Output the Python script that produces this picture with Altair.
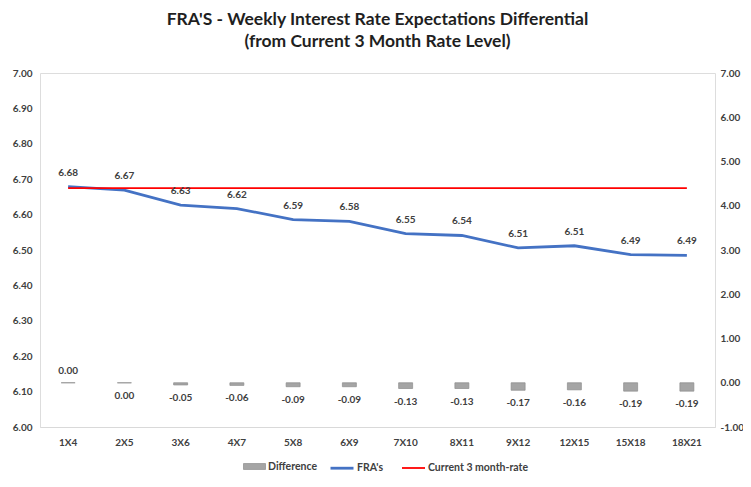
import altair as alt
import pandas as pd

tenors = ["1X4", "2X5", "3X6", "4X7", "5X8", "6X9", "7X10", "8X11", "9X12", "12X15", "15X18", "18X21"]
fra = [6.679, 6.669, 6.627, 6.617, 6.586, 6.581, 6.546, 6.541, 6.506, 6.512, 6.487, 6.485]
current_rate = 6.675
difference = [0.00, -0.003, -0.05, -0.06, -0.09, -0.09, -0.13, -0.13, -0.17, -0.16, -0.19, -0.19]
left_ticks = [6.0, 6.1, 6.2, 6.3, 6.4, 6.5, 6.6, 6.7, 6.8, 6.9, 7.0]
right_ticks = [-1, 0, 1, 2, 3, 4, 5, 6, 7]
series_names = ["FRA's", "Current 3 month-rate"]
series_colors = ["#4472C4", "#FF0000"]
series_widths = [2.8, 1.8]

FONT = "Lato"
TXT = "#404040"


def fmt(v):
    s = f"{v:.2f}"
    return "0.00" if s == "-0.00" else s


lines_df = pd.DataFrame(
    [{"tenor": t, "series": "FRA's", "value": v} for t, v in zip(tenors, fra)]
    + [{"tenor": t, "series": "Current 3 month-rate", "value": current_rate} for t in tenors]
)
fra_df = pd.DataFrame({"tenor": tenors, "value": fra, "label": [fmt(v) for v in fra]})
diff_df = pd.DataFrame({
    "tenor": tenors,
    "value": difference,
    "zero": [0.0] * len(tenors),
    "label": [fmt(v) for v in difference],
    "series": ["Difference"] * len(tenors),
})

x_enc = alt.X(
    "tenor:N", sort=tenors, title=None,
    scale=alt.Scale(paddingInner=0, paddingOuter=0),
    axis=alt.Axis(labelAngle=0, ticks=False, grid=False, domainColor="#D9D9D9",
                  labelFont=FONT, labelFontWeight="bold", labelFontSize=10,
                  labelColor=TXT, labelPadding=10),
)

left_scale = alt.Scale(domain=[6.0, 7.0], nice=False, zero=False)
right_scale = alt.Scale(domain=[-1, 7], nice=False, zero=False)

left_axis = alt.Axis(orient="left", values=left_ticks, format=".2f", grid=False, ticks=False,
                     domain=False, labelOverlap=False, labelFont=FONT, labelFontWeight="bold",
                     labelFontSize=10, labelColor=TXT, labelPadding=8)
right_axis = alt.Axis(orient="right", values=right_ticks, grid=False, ticks=False, domain=False,
                      labelOverlap=False,
                      labelExpr="datum.value < 0 ? '-' + format(-datum.value, '.2f') : format(datum.value, '.2f')",
                      labelFont=FONT, labelFontWeight="bold", labelFontSize=10,
                      labelColor=TXT, labelPadding=5)

y_left = alt.Y("value:Q", title=None, scale=left_scale, axis=left_axis)
y_right = alt.Y("value:Q", title=None, scale=right_scale, axis=right_axis)

lines = alt.Chart(lines_df).mark_line().encode(
    x=x_enc,
    y=y_left,
    stroke=alt.Stroke(
        "series:N",
        scale=alt.Scale(domain=series_names, range=series_colors),
        legend=alt.Legend(orient="none", legendX=289, legendY=382, direction="horizontal",
                          title=None, symbolType="stroke", symbolStrokeWidth=2,
                          symbolSize=529, columnPadding=14, labelOffset=2,
                          labelFont=FONT, labelFontWeight="bold", labelFontSize=10.5,
                          labelColor=TXT),
    ),
    strokeWidth=alt.StrokeWidth(
        "series:N", scale=alt.Scale(domain=series_names, range=series_widths), legend=None
    ),
)

fra_labels = alt.Chart(fra_df).mark_text(
    dy=-14, font=FONT, fontWeight="bold", fontSize=10, color=TXT
).encode(x=x_enc, y=y_left, text="label:N")

left = alt.layer(lines, fra_labels)

bars = alt.Chart(diff_df).mark_bar(size=14, stroke="#8C8C8C", strokeWidth=0.7).encode(
    x=x_enc,
    y=y_right,
    y2="zero:Q",
    fill=alt.Fill(
        "series:N",
        scale=alt.Scale(domain=["Difference"], range=["#A5A5A5"]),
        legend=alt.Legend(orient="none", legendX=203, legendY=382, title=None,
                          symbolType="M-1,-0.27H1V0.27H-1Z", symbolSize=484,
                          symbolStrokeColor="#8C8C8C", symbolStrokeWidth=0.7, labelOffset=2,
                          labelFont=FONT, labelFontWeight="bold", labelFontSize=10.5,
                          labelColor=TXT),
    ),
)

diff_above = alt.Chart(diff_df).transform_filter("datum.value >= 0").mark_text(
    dy=-12, font=FONT, fontWeight="bold", fontSize=10, color=TXT
).encode(x=x_enc, y=y_right, text="label:N")

diff_below = alt.Chart(diff_df).transform_filter("datum.value < 0").mark_text(
    dy=13, font=FONT, fontWeight="bold", fontSize=10, color=TXT
).encode(x=x_enc, y=y_right, text="label:N")

right = alt.layer(bars, diff_above, diff_below)

chart = alt.layer(right, left).resolve_scale(y="independent").properties(
    width=675,
    height=354,
    padding={"left": 32, "top": 65, "right": 28, "bottom": 50},
    autosize=alt.AutoSizeParams(type="none"),
    title=alt.TitleParams(
        text=["FRA'S - Weekly Interest Rate Expectations Differential",
              "(from Current 3 Month Rate Level)"],
        font=FONT, fontSize=17.5, fontWeight="bold", color="#1F1F1F",
        lineHeight=22, anchor="middle", frame="group", offset=18,
    ),
).configure_view(stroke=None).configure(background="white")

chart.save("out.html", embed_options={"renderer": "svg", "actions": False})
